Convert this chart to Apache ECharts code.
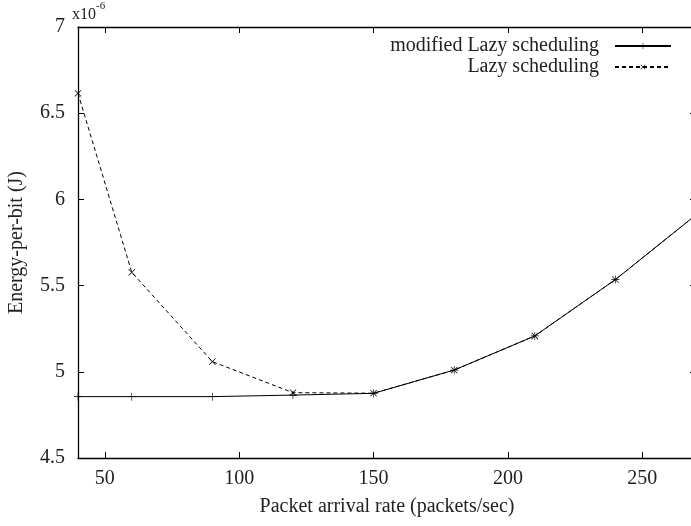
<!DOCTYPE html>
<html>
<head>
<meta charset="utf-8">
<script src="https://cdn.jsdelivr.net/npm/echarts@6/dist/echarts.min.js"></script>
<style>
  html, body { margin: 0; padding: 0; background: #fff; }
  #chart { width: 691px; height: 526px; }
</style>
</head>
<body>
<div id="chart"></div>
<script>
// packet arrival rate (packets/sec)
const rates = [40, 60, 90, 120, 150, 180, 210, 240, 270];
// energy-per-bit, x10^-6 J
const modifiedLazy = [4.856, 4.856, 4.856, 4.865, 4.875, 5.01, 5.208, 5.535, 5.91];
const lazy = [6.615, 5.577, 5.059, 4.879, 4.876, 5.01, 5.208, 5.535, 5.91];
const xTicks = [50, 100, 150, 200, 250];
const yTicks = [4.5, 5, 5.5, 6, 6.5, 7];

const font = "'Liberation Serif', 'DejaVu Serif', serif";
const plusPath = "path://M0,4.6H10V5.4H0Z M4.6,0H5.4V10H4.6Z";

const chart = echarts.init(document.getElementById("chart"));

const baseX = {
  type: "value",
  min: 40,
  max: 270,
  interval: 50,
  axisLine: { show: true, onZero: false, lineStyle: { color: "#000", width: 1.3 } },
  axisTick: { show: true, inside: true, length: 6, lineStyle: { color: "#000" },
    customValues: xTicks },
  splitLine: { show: false }
};
const baseY = {
  type: "value",
  min: 4.5,
  max: 7,
  interval: 0.5,
  axisLine: { show: true, onZero: false, lineStyle: { color: "#000", width: 1.3 } },
  axisTick: { show: true, inside: true, length: 6, lineStyle: { color: "#000" } },
  splitLine: { show: false }
};

const option = {
  animation: false,
  backgroundColor: "#fff",
  title: {
    left: 72,
    top: 1,
    padding: 0,
    text: "{a|x10}{b|-6}",
    textStyle: {
      rich: {
        a: { fontFamily: font, fontSize: 16, fontWeight: "normal", color: "#222", padding: [6, 0, 0, 0] },
        b: { fontFamily: font, fontSize: 11, fontWeight: "normal", color: "#222", verticalAlign: "top" }
      }
    }
  },
  grid: { left: 78, top: 27, right: -5, bottom: 68, outerBoundsMode: "none", containLabel: false },
  legend: {
    orient: "vertical",
    right: 19,
    top: 36,
    padding: 0,
    align: "right",
    itemWidth: 56,
    itemHeight: 8,
    itemGap: 1,
    textStyle: { fontFamily: font, fontSize: 20, color: "#222", padding: [0, 11, 0, 0] },
    data: ["modified Lazy scheduling", "Lazy scheduling"]
  },
  xAxis: [
    Object.assign({}, baseX, {
      position: "bottom",
      name: "Packet arrival rate (packets/sec)",
      nameLocation: "middle",
      nameGap: 39,
      nameTextStyle: { fontFamily: font, fontSize: 20, color: "#222" },
      axisLabel: { fontFamily: font, fontSize: 20, color: "#222", margin: 11,
        customValues: xTicks }
    }),
    Object.assign({}, baseX, {
      position: "top",
      axisLabel: { show: false }
    })
  ],
  yAxis: [
    Object.assign({}, baseY, {
      position: "left",
      name: "Energy-per-bit (J)",
      nameLocation: "middle",
      nameGap: 51,
      nameTextStyle: { fontFamily: font, fontSize: 20, color: "#222" },
      axisLabel: { fontFamily: font, fontSize: 20, color: "#222", margin: 13,
        customValues: yTicks }
    }),
    Object.assign({}, baseY, {
      position: "right",
      axisLabel: { show: false }
    })
  ],
  series: [
    {
      name: "modified Lazy scheduling",
      type: "line",
      data: rates.map((r, i) => [r, modifiedLazy[i]]),
      symbol: plusPath,
      symbolSize: 8,
      showAllSymbol: true,
      lineStyle: { color: "#000", width: 1 },
      itemStyle: { color: "#000" },
      z: 2
    },
    {
      name: "Lazy scheduling",
      type: "line",
      data: rates.map((r, i) => [r, lazy[i]]),
      symbol: plusPath,
      symbolRotate: 45,
      symbolSize: 9,
      showAllSymbol: true,
      lineStyle: { color: "#000", width: 1, type: [4, 3] },
      itemStyle: { color: "#000" },
      z: 3
    }
  ]
};

chart.setOption(option);
</script>
</body>
</html>
